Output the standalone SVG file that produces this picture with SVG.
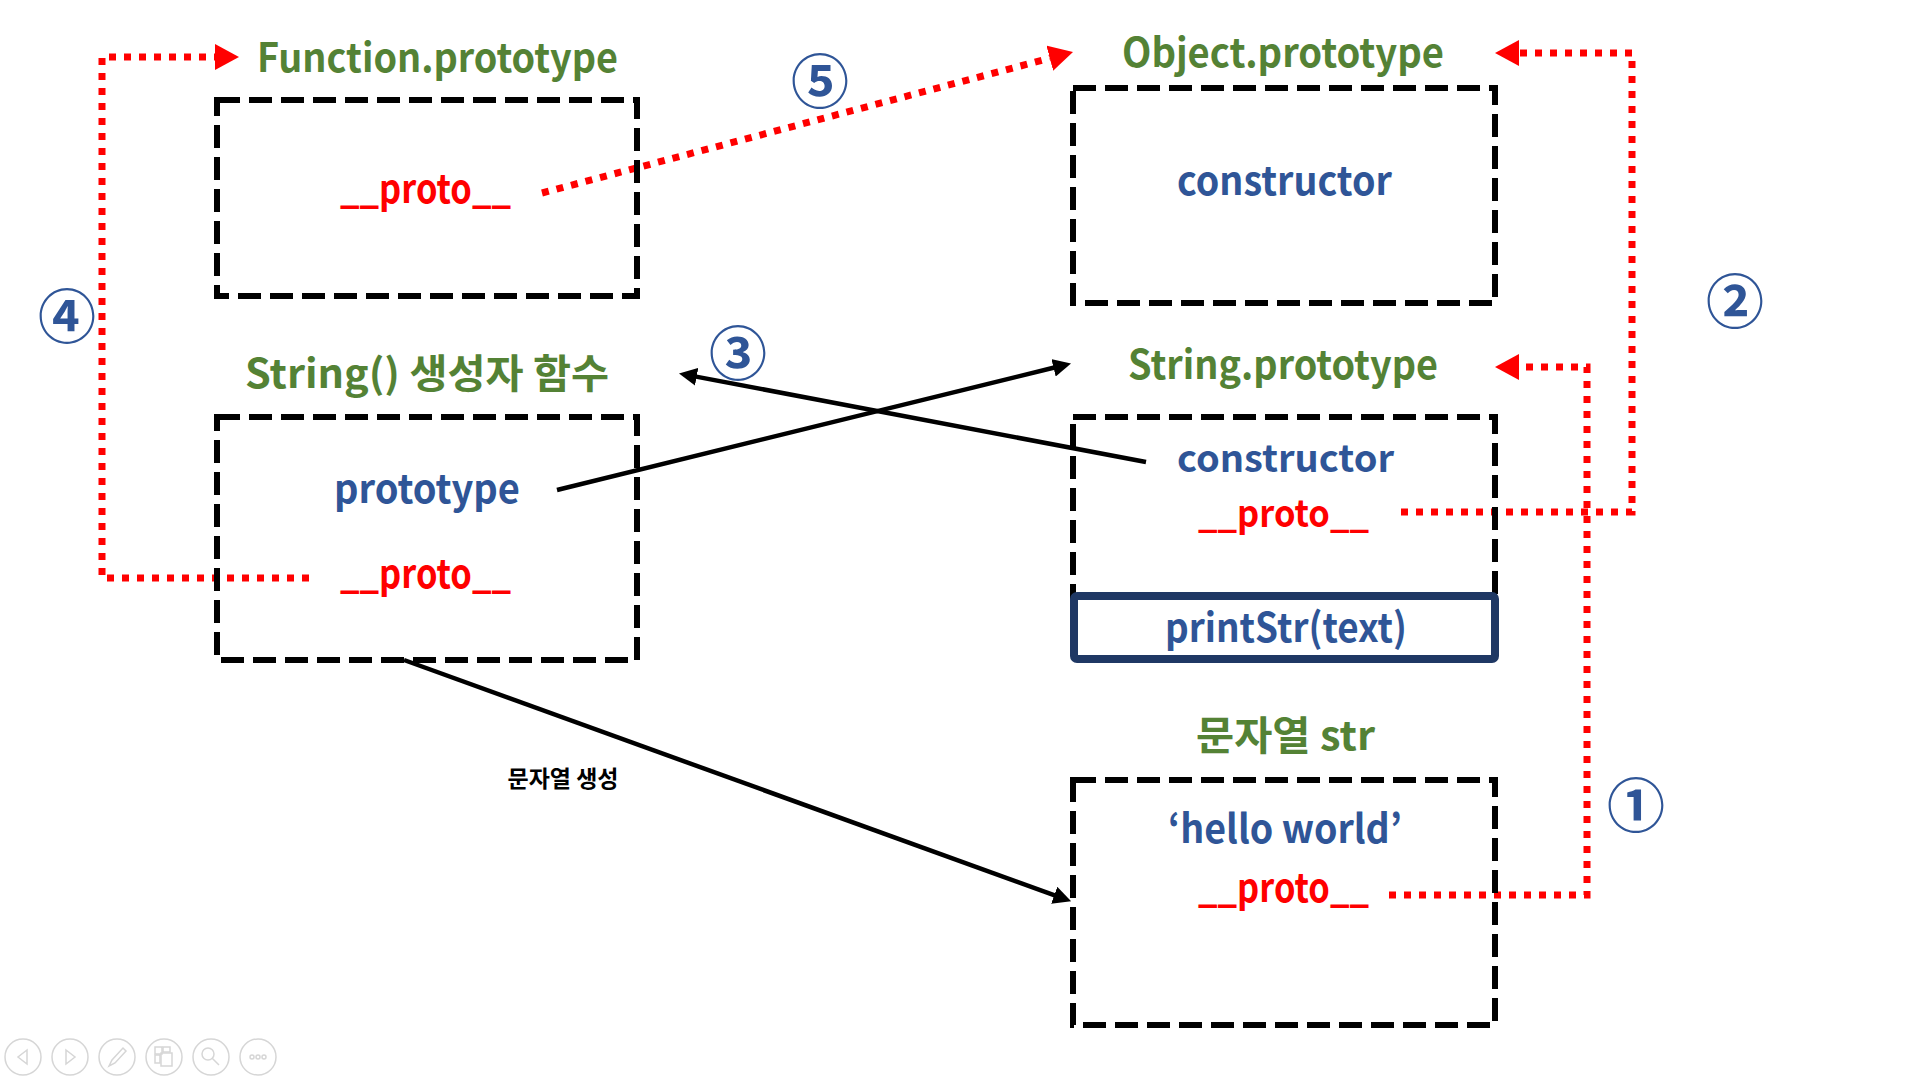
<svg xmlns="http://www.w3.org/2000/svg" width="1920" height="1080" viewBox="0 0 1920 1080">
<defs>
<style>
.box{fill:none;stroke:#000;stroke-width:6;stroke-dasharray:23 9}
.t{font-family:"Noto Sans CJK KR","Noto Sans",sans-serif;font-weight:700;font-size:40px}
.s{font-size:37px}
.g{fill:#548235}
.b{fill:#2F5597}
.r{fill:#FF0000}
.num{font-family:"Noto Sans CJK KR","Noto Sans",sans-serif;font-weight:700;font-size:58px;fill:#2F5597;text-anchor:middle;dominant-baseline:central}
.red{fill:none;stroke:#FF0000;stroke-width:7;stroke-dasharray:7 8}
.blk{fill:none;stroke:#000;stroke-width:4.5}
.ui{fill:none;stroke:#D6D6D6;stroke-width:1.5}
</style>
<marker id="ra" markerUnits="userSpaceOnUse" markerWidth="24" markerHeight="26" refX="0" refY="13" orient="auto"><path d="M0,0 L24,13 L0,26 z" fill="#FF0000"/></marker>
<marker id="ba" markerUnits="userSpaceOnUse" markerWidth="18" markerHeight="18" refX="2" refY="9" orient="auto"><path d="M0,0 L18,9 L0,18 z" fill="#000"/></marker>
</defs>
<rect width="1920" height="1080" fill="#fff"/>

<g id="connectors">
<path class="red" d="M309,578 H102 V57 H215" marker-end="url(#ra)"/>
<path class="red" d="M542,193 L1049.8,58.2" marker-end="url(#ra)"/>
<path class="red" d="M1401,512 H1632 V53 H1519" marker-end="url(#ra)"/>
<path class="red" d="M1389,895 H1587 V367 H1519" marker-end="url(#ra)"/>
<path class="blk" d="M557,490 L1055.5,367.3" marker-end="url(#ba)"/>
<path class="blk" d="M1146,462 L694.7,376.4" marker-end="url(#ba)"/>
<path class="blk" d="M404,660 L1056.1,895.9" marker-end="url(#ba)"/>
<text x="563" y="787" text-anchor="middle" font-family="Noto Sans CJK KR, sans-serif" font-weight="700" font-size="23" fill="#000">문자열 생성</text>
</g>

<g id="function-prototype">
<text class="t g" x="257" y="72" textLength="361" lengthAdjust="spacingAndGlyphs">Function.prototype</text>
<rect class="box" x="217" y="100" width="420" height="196"/>
<text class="t r" x="340" y="203" textLength="171" lengthAdjust="spacingAndGlyphs">__proto__</text>
</g>

<g id="object-prototype">
<text class="t g" x="1122" y="67" textLength="322" lengthAdjust="spacingAndGlyphs">Object.prototype</text>
<rect class="box" x="1073" y="88" width="422" height="215"/>
<text class="t b" x="1177" y="195" textLength="215" lengthAdjust="spacingAndGlyphs">constructor</text>
</g>

<g id="string-constructor">
<text class="t g" x="245" y="388" textLength="364" lengthAdjust="spacingAndGlyphs">String() 생성자 함수</text>
<rect class="box" x="217" y="417" width="420" height="243"/>
<text class="t b" x="334" y="503" textLength="186" lengthAdjust="spacingAndGlyphs">prototype</text>
<text class="t r" x="340" y="588" textLength="171" lengthAdjust="spacingAndGlyphs">__proto__</text>
</g>

<g id="string-prototype">
<text class="t g" x="1128" y="379" textLength="310" lengthAdjust="spacingAndGlyphs">String.prototype</text>
<rect class="box" x="1073" y="417" width="422" height="185"/>
<text class="t s b" x="1177" y="472" textLength="217" lengthAdjust="spacingAndGlyphs">constructor</text>
<text class="t s r" x="1198" y="527" textLength="171" lengthAdjust="spacingAndGlyphs">__proto__</text>
</g>

<g id="printstr">
<rect x="1074" y="596" width="421" height="63" rx="3" fill="#fff" stroke="#1F3864" stroke-width="8"/>
<text class="t b" x="1165" y="642" textLength="242" lengthAdjust="spacingAndGlyphs">printStr(text)</text>
</g>

<g id="string-str">
<text class="t g" x="1196" y="750" textLength="179" lengthAdjust="spacingAndGlyphs">문자열 str</text>
<rect class="box" x="1073" y="780" width="422" height="245"/>
<text class="t b" x="1168" y="843" textLength="234" lengthAdjust="spacingAndGlyphs">‘hello world’</text>
<text class="t r" x="1198" y="902" textLength="171" lengthAdjust="spacingAndGlyphs">__proto__</text>
</g>

<g id="numbers">
<text class="num" x="1636" y="802">①</text>
<text class="num" x="1735" y="298">②</text>
<text class="num" x="738" y="350">③</text>
<text class="num" x="67" y="313">④</text>
<text class="num" x="820" y="78">⑤</text>
</g>

<g id="toolbar">
<circle class="ui" cx="23" cy="1057" r="18"/>
<path class="ui" d="M27,1050 L18,1057 L27,1064 z"/>
<circle class="ui" cx="70" cy="1057" r="18"/>
<path class="ui" d="M66,1050 L75,1057 L66,1064 z"/>
<circle class="ui" cx="117" cy="1057" r="18"/>
<path class="ui" d="M109,1066 L112,1060 L123,1048 L126,1051 L115,1063 z"/>
<circle class="ui" cx="164" cy="1057" r="18"/>
<rect class="ui" x="155" y="1047" width="7" height="7"/>
<rect class="ui" x="163" y="1047" width="7" height="5"/>
<rect class="ui" x="155" y="1055" width="5" height="8"/>
<rect class="ui" x="161" y="1053" width="11" height="13"/>
<circle class="ui" cx="211" cy="1057" r="18"/>
<circle class="ui" cx="208" cy="1054" r="6"/>
<path class="ui" d="M212,1058 L219,1065"/>
<circle class="ui" cx="258" cy="1057" r="18"/>
<circle class="ui" cx="252" cy="1057" r="2"/>
<circle class="ui" cx="258" cy="1057" r="2"/>
<circle class="ui" cx="264" cy="1057" r="2"/>
</g>
</svg>
